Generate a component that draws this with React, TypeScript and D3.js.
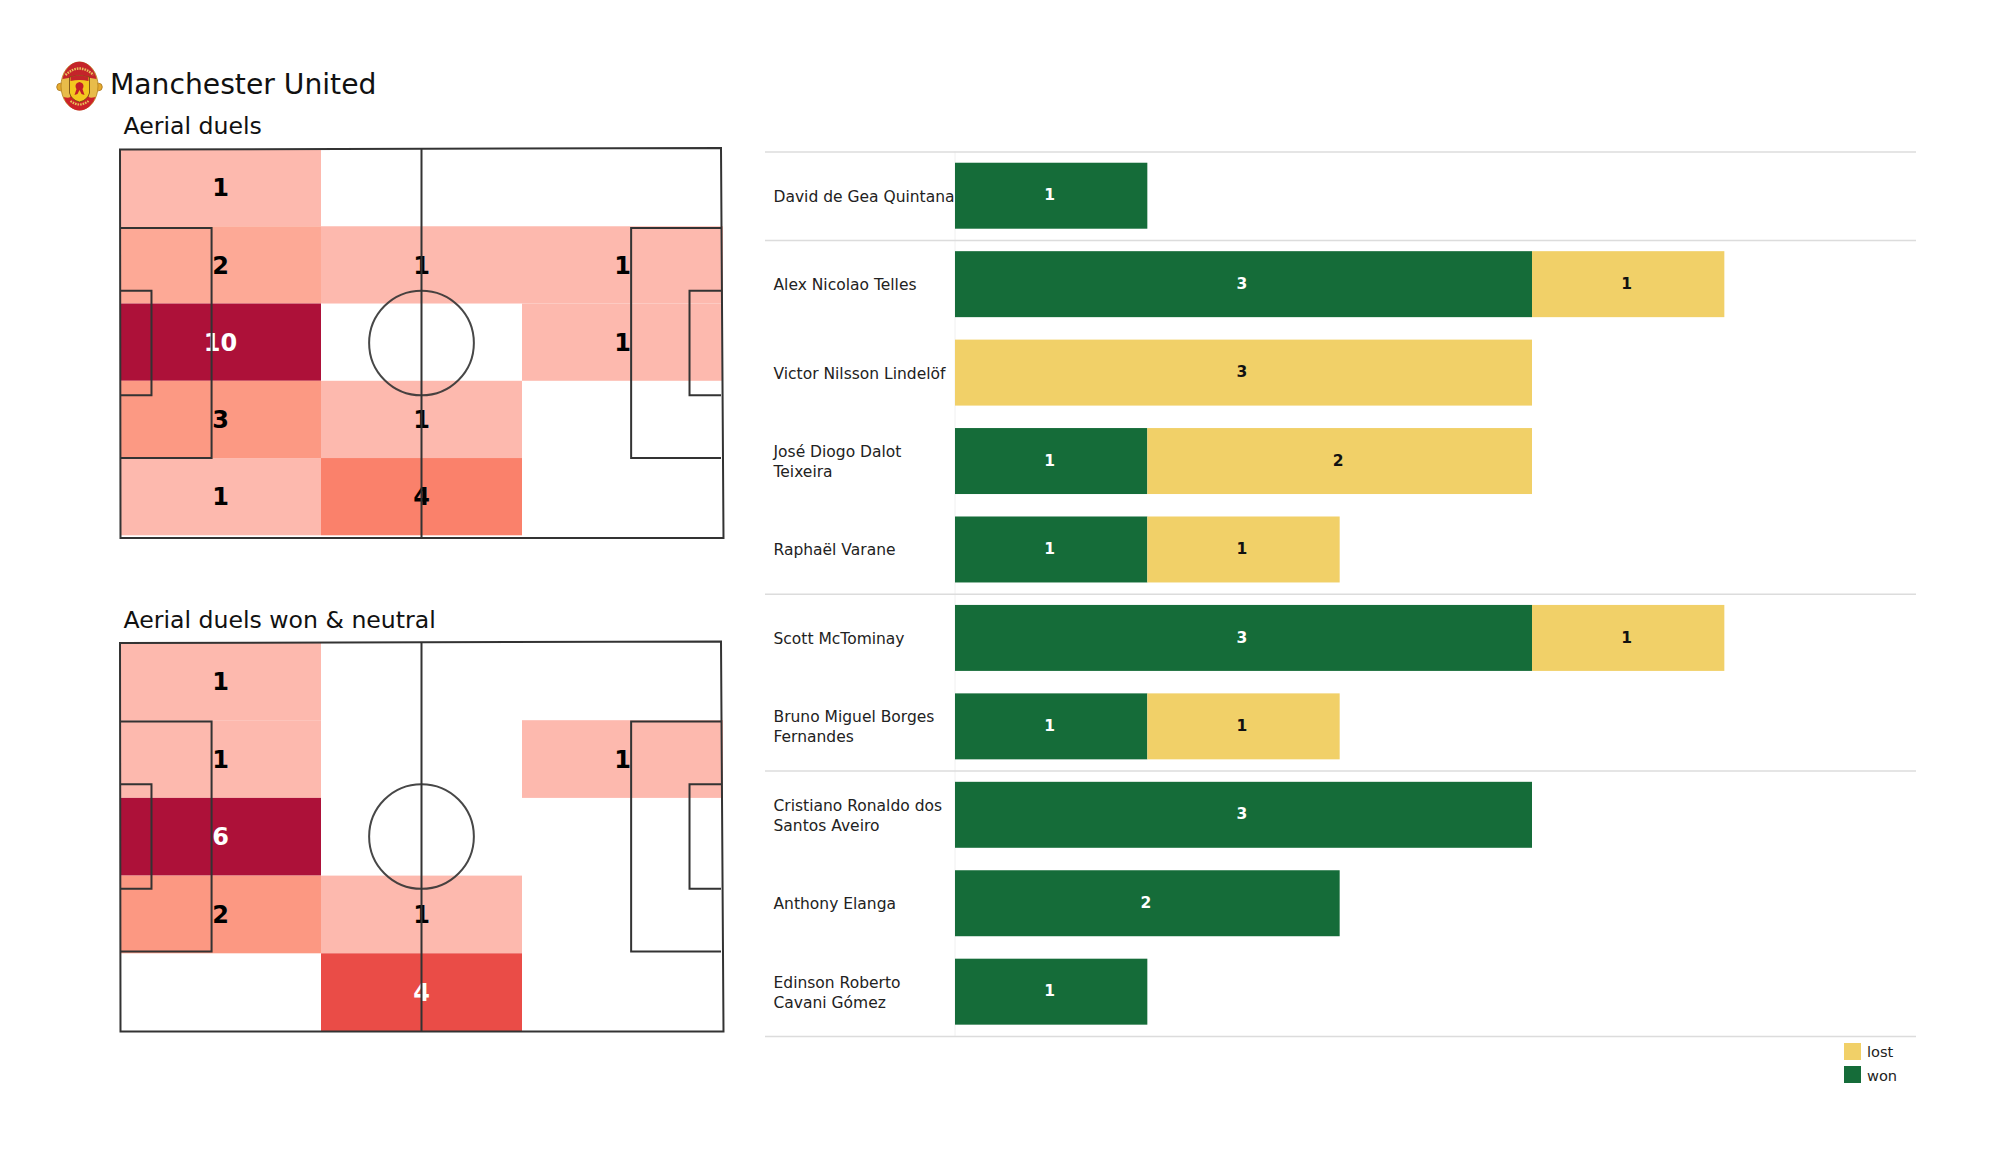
import * as d3 from 'd3'
import React from 'react'

const players = [
  ['David de Gea Quintana'],
  ['Alex Nicolao Telles'],
  ['Victor Nilsson Lindelöf'],
  ['José Diogo Dalot', 'Teixeira'],
  ['Raphaël Varane'],
  ['Scott McTominay'],
  ['Bruno Miguel Borges', 'Fernandes'],
  ['Cristiano Ronaldo dos', 'Santos Aveiro'],
  ['Anthony Elanga'],
  ['Edinson Roberto', 'Cavani Gómez'],
]
const won = [1, 3, 0, 1, 1, 3, 1, 3, 2, 1]
const lost = [0, 1, 3, 2, 1, 1, 1, 0, 0, 0]
// the players are grouped by position, a rule goes before each of these rows
const groupStarts = [0, 1, 5, 7, 10]

const aerialDuels = [
  [1, 0, 0],
  [2, 1, 1],
  [10, 0, 1],
  [3, 1, 0],
  [1, 4, 0],
]
const aerialDuelsWon = [
  [1, 0, 0],
  [1, 0, 1],
  [6, 0, 0],
  [2, 1, 0],
  [0, 4, 0],
]

const WON = '#156c39'
const LOST = '#f1d068'
const FONT = '"DejaVu Sans", sans-serif'

const heatColor = d3
  .scaleLinear<string>()
  .domain([0.17, 0.2, 0.3, 0.33, 0.4, 0.67, 1])
  .range(['#fdb9ae', '#fda996', '#fc9983', '#fc9983', '#fa816b', '#ea4b47', '#ad1139'])
  .clamp(true)

const Pitch = ({
  data,
  top,
  cellSpan,
  title,
  titleY,
}: {
  data: number[][]
  top: number
  cellSpan: number
  title: string
  titleY: number
}) => {
  const left = 120
  const right = 721
  const bottom = top + 388

  const x = d3.scaleLinear().domain([0, 105]).range([left, right])
  const y = d3.scaleLinear().domain([0, 68]).range([top, bottom])
  const col = d3.scaleBand<number>().domain([0, 1, 2]).range([left, right + 2])
  const row = d3.scaleBand<number>().domain([0, 1, 2, 3, 4]).range([top, top + cellSpan])
  const maxValue = d3.max(data.flat()) as number
  const midX = x(52.5) + 1

  const box = (x0: number, x1: number, y0: number, y1: number) =>
    `M${x(x0)},${y(y0)}L${x(x1)},${y(y0)}L${x(x1)},${y(y1)}L${x(x0)},${y(y1)}`

  return (
    <g>
      <text x={123.5} y={titleY} fontSize={23.6} fill='#111'>
        {title}
      </text>
      {data.map((values, r) =>
        values.map((v, c) =>
          v > 0 ? (
            <rect
              key={`cell-${r}-${c}`}
              x={col(c)}
              y={row(r)}
              width={col.bandwidth()}
              height={row.bandwidth()}
              fill={heatColor(v / maxValue)}
            />
          ) : null
        )
      )}
      {data.map((values, r) =>
        values.map((v, c) =>
          v > 0 ? (
            <text
              key={`label-${r}-${c}`}
              x={(col(c) as number) + col.bandwidth() / 2}
              y={(row(r) as number) + row.bandwidth() / 2}
              dy='0.36em'
              textAnchor='middle'
              fontSize={24}
              fontWeight='bold'
              fill={v / maxValue > 0.5 ? '#fff' : '#000'}
            >
              {v}
            </text>
          ) : null
        )
      )}
      <g fill='none' stroke='#333' strokeWidth={2}>
        {/* the outline leans a little in the source picture */}
        <path
          d={`M${left},${top + 0.5}L${right},${top - 1}L${right + 2.5},${bottom + 1}L${left + 0.5},${bottom + 1}Z`}
        />
        <line x1={midX} x2={midX} y1={y(0)} y2={y(68) + 1} />
        <path d={box(0, 16, 13.84, 54.16)} />
        <path d={box(0, 5.5, 24.84, 43.16)} />
        <path d={box(105, 89.3, 13.84, 54.16)} />
        <path d={box(105, 99.5, 24.84, 43.16)} />
        <circle cx={midX} cy={y(34)} r={x(9.15) - x(0)} strokeOpacity={0.9} />
      </g>
    </g>
  )
}

const DuelBars = () => {
  const x = d3.scaleLinear().domain([0, 3]).range([955, 1532])
  const y = d3
    .scaleBand<number>()
    .domain(d3.range(players.length))
    .range([151.5, 1035.9])
    .paddingInner(0.254)
    .paddingOuter(0.127)
  const step = y.step()
  const rowTop = (i: number) => 151.5 + i * step

  return (
    <g>
      <line x1={955} x2={955} y1={151.5} y2={1035.9} stroke='#f0f0f0' strokeWidth={1} />
      {groupStarts.map((i) => (
        <line key={i} x1={765} x2={1916} y1={rowTop(i) + 0.5} y2={rowTop(i) + 0.5} stroke='#dcdcdc' strokeWidth={1.5} />
      ))}
      {players.map((lines, i) => {
        const cy = (y(i) as number) + y.bandwidth() / 2
        return (
          <g key={lines[0]}>
            <text x={773.5} y={cy} fontSize={15.5} fill='#222'>
              {lines.map((t, k) => (
                <tspan key={t} x={773.5} y={cy + 6 + (k - (lines.length - 1) / 2) * 20}>
                  {t}
                </tspan>
              ))}
            </text>
            {won[i] > 0 && (
              <rect x={x(0)} y={y(i)} width={x(won[i]) - x(0)} height={y.bandwidth()} fill={WON} />
            )}
            {lost[i] > 0 && (
              <rect
                x={x(won[i])}
                y={y(i)}
                width={x(won[i] + lost[i]) - x(won[i])}
                height={y.bandwidth()}
                fill={LOST}
              />
            )}
            {won[i] > 0 && (
              <text
                x={x(won[i] / 2) - 1.5}
                y={cy - 1}
                dy='0.36em'
                textAnchor='middle'
                fontSize={15.5}
                fontWeight='bold'
                fill='#fff'
              >
                {won[i]}
              </text>
            )}
            {lost[i] > 0 && (
              <text
                x={x(won[i] + lost[i] / 2) - 1.5}
                y={cy - 1}
                dy='0.36em'
                textAnchor='middle'
                fontSize={15.5}
                fontWeight='bold'
                fill='#111'
              >
                {lost[i]}
              </text>
            )}
          </g>
        )
      })}
      <rect x={1844} y={1043} width={17} height={17} fill={LOST} />
      <text x={1867} y={1056.5} fontSize={14.6} fill='#222'>
        lost
      </text>
      <rect x={1844} y={1066} width={17} height={17} fill={WON} />
      <text x={1867} y={1080.5} fontSize={14.6} fill='#222'>
        won
      </text>
    </g>
  )
}

// small stand-in for the club badge
const Crest = () => (
  <g transform='translate(79.5,86)'>
    <circle cx={-19} cy={1} r={3.8} fill='#e6ab2e' stroke='#a8741c' strokeWidth={0.8} />
    <circle cx={19} cy={1} r={3.8} fill='#e6ab2e' stroke='#a8741c' strokeWidth={0.8} />
    <ellipse rx={18.5} ry={24} fill='#e8bc4a' stroke='#b07d1c' strokeWidth={0.8} />
    <path d='M-17,-7A17.5,22.5 0 0 1 17,-7L11,-8Q0,-13 -11,-8Z' fill='#c4242a' />
    <path d='M-14,-11Q0,-24 14,-11' fill='none' stroke='#e9c25a' strokeWidth={2.4} strokeDasharray='1.6 1' />
    <path d='M-16,11Q-8,13 -9,9L9,9Q8,13 16,11A17.5,22.5 0 0 1 -16,11Z' fill='#cc2229' />
    <path d='M-9,15Q0,22 9,15' fill='none' stroke='#e9c25a' strokeWidth={2.2} strokeDasharray='1.6 1' />
    <path d='M-10,-9Q0,-12 10,-9L10,7Q8,14 0,16Q-8,14 -10,7Z' fill='#f3c81f' stroke='#6a3f10' strokeWidth={0.8} />
    <path d='M-9,-9Q0,-12 9,-9L9,-5Q0,-7 -9,-5Z' fill='#c4242a' />
    <path d='M0,-4C-4,-3 -5,0 -3,3L-5,9L-2,8L0,4L2,8L5,9L3,3C5,0 4,-3 0,-4Z' fill='#c21f28' />
  </g>
)

const App = () => (
  <svg
    width={2000}
    height={1175}
    style={{ position: 'absolute', left: 0, top: 0, background: '#fff' }}
    fontFamily={FONT}
  >
    <Crest />
    <text x={110} y={94} fontSize={28.2} fill='#111'>
      Manchester United
    </text>
    <Pitch data={aerialDuels} top={149} cellSpan={386.3} title='Aerial duels' titleY={133.5} />
    <Pitch data={aerialDuelsWon} top={642.5} cellSpan={388.5} title='Aerial duels won & neutral' titleY={628} />
    <DuelBars />
  </svg>
)

export default App
